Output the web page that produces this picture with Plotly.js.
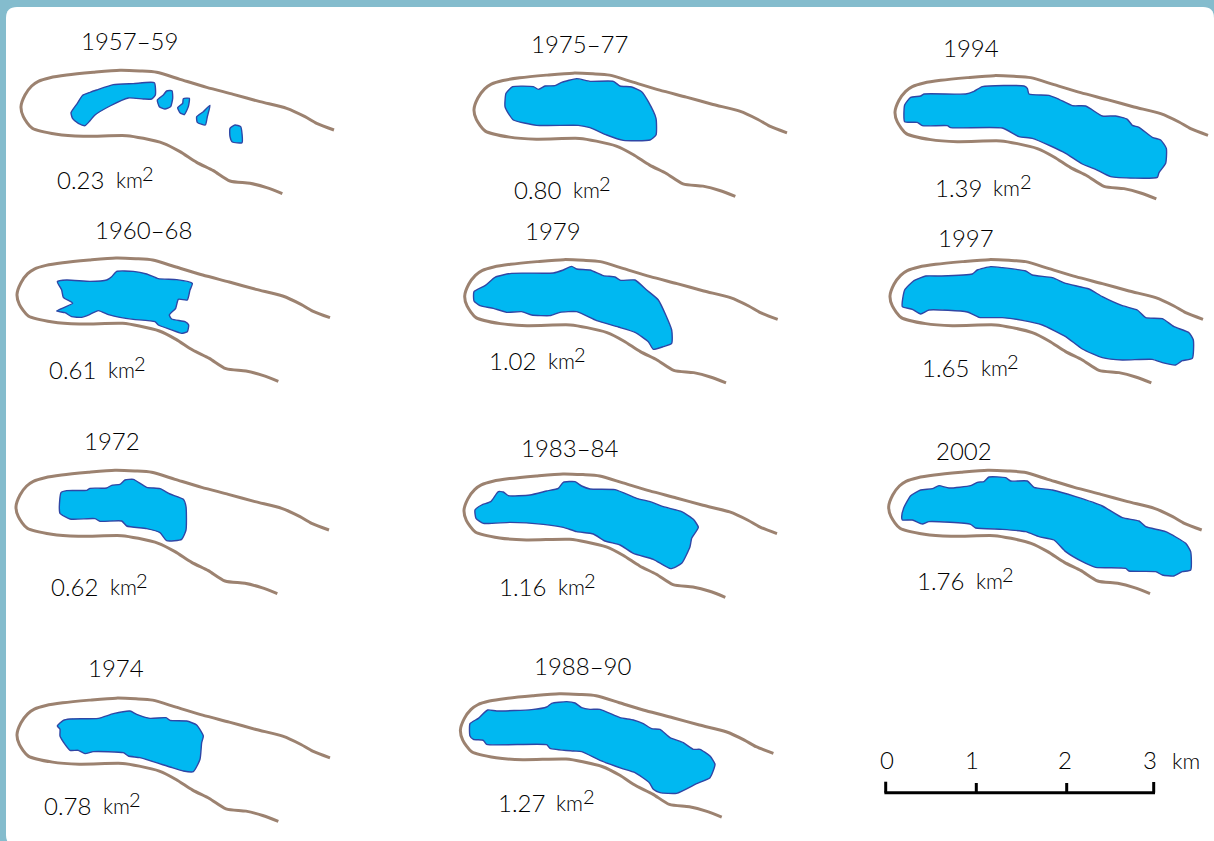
<!DOCTYPE html>
<html><head><meta charset="utf-8">
<script src="https://cdn.plot.ly/plotly-3.0.1.min.js"></script>
<style>html,body{margin:0;padding:0;background:#84bccd}#c{width:1214px;height:841px}</style>
</head><body><div id="c"></div>
<script>
const valleyUpperX=[1002,950,915,860,780,700,620,540,470,420,360,280,200,150,115,95,75,63,70,97,170,250,380,430,490,540,590,640,690,750,800,847];
const valleyUpperY=[390,370,350,325,305,283,262,238,217,213,211,217,225,233,244,258,285,320,350,385,403,409,407,415,430,455,487,512,543,550,563,581];

const labels=["1957–59","1960–68","1972","1974","1975–77","1979","1983–84","1988–90","1994","1997","2002"];
const areas=["0.23","0.61","0.62","0.78","0.80","1.02","1.16","1.27","1.39","1.65","1.76"];

// lake outlines, one or more polygons per period
const lake1957=[
 [[213,232,248,270,290,340,400,463,466,455,430,385,330,285,270,255,235,218],[338,310,286,277,270,254,251,248,285,297,297,294,318,345,362,377,370,356]],
 [[472,490,500,516,518,512,495,478],[300,285,273,272,295,320,327,320]],
 [[533,548,550,568,565,553,540],[323,310,296,295,320,344,338]],
 [[590,610,630,622,616,592],[350,335,316,350,375,367]],
 [[690,705,722,726,697,690],[385,375,380,428,426,410]]];
const lake1960=[[[172,200,270,320,335,350,400,440,475,530,577,570,562,535,527,508,515,555,566,562,545,510,475,465,400,360,325,295,270,245,215,195,170,218,190,185],[215,210,214,210,200,184,184,192,206,209,220,240,270,268,295,315,327,335,345,365,370,358,345,335,328,322,314,302,313,322,320,308,303,280,262,240]]];
const lake1972=[[[183,200,260,270,320,335,360,375,400,440,480,510,550,558,558,545,500,480,440,380,365,300,285,210,180,178],[218,212,211,205,204,196,193,180,178,202,206,222,238,260,330,358,362,338,326,318,303,304,296,297,280,260]]];
const lake1974=[[[172,190,210,295,340,390,410,450,498,510,560,590,610,605,600,580,550,510,420,385,370,280,255,235,210,195,180,180],[285,268,264,262,248,240,250,262,260,268,270,282,315,335,385,422,420,408,380,375,365,362,368,358,358,340,315,295]]];
const lake1975=[[[168,188,250,265,285,315,335,380,420,490,510,545,575,595,618,618,600,520,470,420,385,260,190,175,165],[220,200,200,208,198,197,187,176,184,184,198,201,215,245,295,345,360,361,345,323,316,316,300,280,260]]];
const lake1979=[[[72,105,135,185,310,340,365,380,420,460,495,512,555,590,625,665,665,640,610,595,555,505,440,380,330,300,245,215,170,130,90,72],[230,212,187,175,174,165,154,162,165,182,186,196,195,225,255,345,385,395,403,380,352,336,317,290,292,302,300,290,292,280,272,258]]];
const lake1983=[[[75,95,122,145,160,175,240,290,325,340,375,395,420,495,560,600,640,695,730,745,725,720,695,662,610,550,510,465,430,380,340,280,180,100,78],[240,225,215,185,186,197,195,183,175,157,155,168,177,179,205,215,230,245,268,292,325,350,400,416,388,370,345,333,312,305,292,283,277,280,265]]];
const lake1988=[[[60,85,113,140,245,290,305,350,375,395,420,450,510,550,580,605,630,660,700,730,750,780,795,780,740,680,630,610,598,555,515,450,395,370,300,290,110,100,70,60],[248,232,207,210,206,198,187,182,186,200,205,205,230,237,248,263,265,290,305,325,325,345,370,410,428,457,455,445,425,395,382,358,332,330,322,311,310,298,295,285]]];
const lake1994=[[[107,125,155,165,290,315,340,465,475,480,540,570,610,650,700,740,775,790,810,850,875,892,890,870,865,725,680,640,590,545,490,450,400,245,235,160,145,107],[255,232,228,222,222,214,200,198,205,222,226,238,257,258,288,288,298,316,322,352,360,385,430,458,472,470,448,432,400,378,355,350,324,323,317,317,307,305]]];
const lake1997=[[[100,107,135,170,215,310,325,365,400,470,490,550,590,660,700,760,805,830,880,915,960,973,970,940,920,880,850,760,700,640,590,520,460,400,330,295,180,155,130],[275,225,197,183,183,177,165,155,158,168,180,188,205,222,245,272,285,308,311,335,353,375,430,437,450,443,433,435,428,402,365,330,316,308,307,291,285,297,283]]];
const lake2002=[[[98,105,125,155,190,210,240,305,325,345,360,410,425,475,495,550,620,700,760,810,830,890,950,965,965,940,915,880,860,780,770,680,640,590,555,510,470,400,320,305,180,160,130,100],[260,232,197,180,176,167,174,167,157,155,141,143,153,153,172,180,200,228,263,273,290,305,340,365,420,425,438,435,425,423,415,412,395,365,330,320,305,298,294,283,275,282,270,270]]];
const lakes=[lake1957,lake1960,lake1972,lake1974,lake1975,lake1979,lake1983,lake1988,lake1994,lake1997,lake2002];

// scale bar
const scaleKm=["0","1","2","3"];

// --- layout of the panels (screen pixels) ---
const cropX=[0,0,0,0,450,450,450,450,869,869,869];
const cropY=[0,210,420,631,20,215,430,641,20,215,430];
const valleyDX=[0,-4,-5,-4,453,443.7,443,439.4,874,869,867.7];
const valleyDY=[0,187.7,400,627.8,2.8,189.3,403.6,623.4,5.3,189.3,400];
const titleCX=[129,143.5,111.5,115.5,579,552.5,570,583,971,966,964];
const titleCY=[40,229,440,667,43,230,447,665,47,237,450];
const areaLX=[55,47,49,42,512,487,497,495.5,932.5,920,915];
const areaCY=[179,369,586,805,189,360,586,802,187,367,580];
const scaleTickX=[885.7,976.3,1066.7,1153.7];
const scaleTickTop=[781.7,783,783,782];
const scaleLabelX=[886.7,972.3,1065,1150];

const U=3, FONT="Lato, sans-serif", INK="#000000";
const F=(s)=>({family:FONT,size:s,color:INK,weight:300});
const traces=[], annotations=[];

labels.forEach((t,i)=>{
  traces.push({type:"scatter",mode:"lines",hoverinfo:"skip",showlegend:false,
    x:valleyUpperX.map(v=>v+valleyDX[i]*U),y:valleyUpperY.map(v=>v+valleyDY[i]*U),
    line:{color:"#9c8270",width:3,shape:"spline",smoothing:0.7}});
  lakes[i].forEach(p=>{
    traces.push({type:"scatter",mode:"lines",fill:"toself",fillcolor:"#00b8f1",hoverinfo:"skip",showlegend:false,
      x:p[0].concat(p[0][0]).map(v=>v+cropX[i]*U),y:p[1].concat(p[1][0]).map(v=>v+cropY[i]*U),
      line:{color:"#2f46a5",width:1.4,shape:"spline",smoothing:0.5}});
  });
  annotations.push({x:titleCX[i]*U,y:titleCY[i]*U,xref:"x",yref:"y",text:t,showarrow:false,xanchor:"center",yanchor:"middle",font:F(24)});
  annotations.push({x:areaLX[i]*U,y:areaCY[i]*U,xref:"x",yref:"y",text:areas[i],showarrow:false,xanchor:"left",yanchor:"middle",font:F(24)});
  annotations.push({x:(areaLX[i]+58.5)*U,y:(areaCY[i]+0.5)*U,xref:"x",yref:"y",text:"km",showarrow:false,xanchor:"left",yanchor:"middle",font:F(21)});
  annotations.push({x:(areaLX[i]+85)*U,y:(areaCY[i]-6)*U,xref:"x",yref:"y",text:"2",showarrow:false,xanchor:"left",yanchor:"middle",font:F(20)});
});

// scale bar drawn as one stepped line
const bx=[],by=[];
scaleTickX.forEach((x,i)=>{bx.push(x*U,x*U,null);by.push(scaleTickTop[i]*U,792.7*U,null);
  annotations.push({x:scaleLabelX[i]*U,y:759*U,xref:"x",yref:"y",text:scaleKm[i],showarrow:false,xanchor:"center",yanchor:"middle",font:F(24)});});
bx.push(884.4*U,1155*U);by.push(792.7*U,792.7*U);
traces.push({type:"scatter",mode:"lines",x:bx,y:by,hoverinfo:"skip",showlegend:false,line:{color:"#000000",width:3}});
annotations.push({x:1186*U,y:760*U,xref:"x",yref:"y",text:"km",showarrow:false,xanchor:"center",yanchor:"middle",font:F(22)});

const L=6*U,T=7*U,R=1214*U,B=846*U,r=11*U;
Plotly.newPlot("c",traces,{
  width:1214,height:841,margin:{l:0,r:0,t:0,b:0},showlegend:false,
  paper_bgcolor:"#84bccd",plot_bgcolor:"rgba(0,0,0,0)",
  xaxis:{range:[0,1214*U],visible:false,fixedrange:true},
  yaxis:{range:[841*U,0],visible:false,fixedrange:true},
  shapes:[{type:"path",layer:"below",xref:"x",yref:"y",line:{width:0},fillcolor:"#ffffff",
    path:`M ${L} ${T+r} Q ${L} ${T} ${L+r} ${T} L ${R-r} ${T} Q ${R} ${T} ${R} ${T+r} L ${R} ${B} L ${L+r} ${B} Q ${L} ${B} ${L} ${B-r} Z`}],
  annotations
},{staticPlot:true,displayModeBar:false});
</script></body></html>
